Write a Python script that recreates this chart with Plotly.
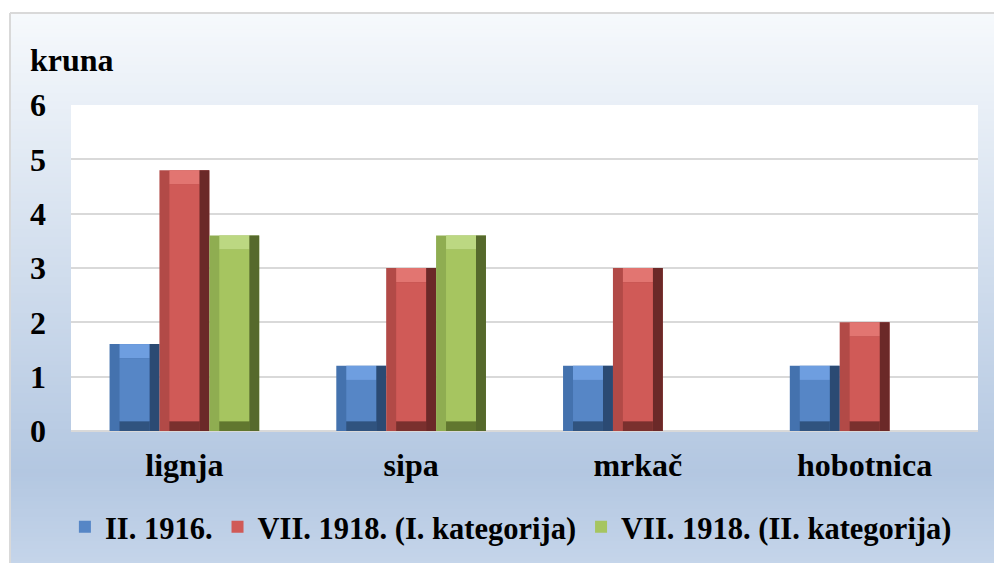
import plotly.graph_objects as go

# data
kategorije = ['lignja', 'sipa', 'mrkač', 'hobotnica']
serije = ['II. 1916.', 'VII. 1918. (I. kategorija)', 'VII. 1918. (II. kategorija)']
ii_1916 = [1.6, 1.2, 1.2, 1.2]
vii_1918_i = [4.8, 3.0, 3.0, 2.0]
vii_1918_ii = [3.6, 3.6, None, None]

# style - bevel colours per series
lice = ['#5686c6', '#d05a57', '#a6c560']     # face
lijevo = ['#4472ae', '#b24a47', '#8fad51']   # left bevel
desno = ['#2b4a73', '#6b2928', '#56692c']    # right bevel
gore_c = ['#6e9ee0', '#e27571', '#bcd882']   # top bevel
dolje_c = ['#30537f', '#7a302e', '#61772f']  # bottom bevel
pomak = [-0.33, -0.11, 0.11]
sirina = 0.22
ux = 0.044      # side bevel (category units)
ug = 0.26       # top bevel (data units)
ud = 0.18       # bottom bevel
FONT = 'Liberation Serif, Times New Roman, serif'
FS = 32
FS_LEG = 30.5

W, H = 994, 563
L, R, T, B = 71, 16, 105, 132
ph = H - T - B
pw = W - L - R

def py(y):
    # pixel row -> paper y
    return (H - B - y) / ph

def px(x):
    return (x - L) / pw

def minus(vals, d):
    return [None if v is None else v - d for v in vals]

fig = go.Figure()
for i, vals in enumerate([ii_1916, vii_1918_i, vii_1918_ii]):
    o = pomak[i]
    skip = dict(showlegend=False, hoverinfo='skip')
    # whole bar (left bevel colour)
    fig.add_trace(go.Bar(x=kategorije, y=vals, width=sirina, offset=o,
                         marker=dict(color=lijevo[i], line=dict(width=0)), **skip))
    # right bevel
    fig.add_trace(go.Bar(x=kategorije, y=vals, width=ux, offset=o + sirina - ux,
                         marker=dict(color=desno[i], line=dict(width=0)), **skip))
    # top bevel
    fig.add_trace(go.Bar(x=kategorije, y=[None if v is None else ug for v in vals],
                         base=minus(vals, ug), width=sirina - 2 * ux, offset=o + ux,
                         marker=dict(color=gore_c[i], line=dict(width=0)), **skip))
    # bottom bevel
    fig.add_trace(go.Bar(x=kategorije, y=[None if v is None else ud for v in vals],
                         width=sirina - 2 * ux, offset=o + ux,
                         marker=dict(color=dolje_c[i], line=dict(width=0)), **skip))
    # face
    fig.add_trace(go.Bar(x=kategorije, y=minus(vals, ug + ud), base=ud,
                         width=sirina - 2 * ux, offset=o + ux,
                         marker=dict(color=lice[i], line=dict(width=0)),
                         name=serije[i]))

# gradient background
shapes = []
top, bot = 13, H
def mix(c1, c2, t):
    return '#%02x%02x%02x' % tuple(int(round(a + (b - a) * t)) for a, b in zip(c1, c2))
c_top = (246, 249, 252)
c_mid = (179, 199, 225)
c_bot = (197, 213, 234)
korak = 4
for y in range(top, bot, korak):
    if y < 470:
        c = mix(c_top, c_mid, (y - top) / (470 - top))
    else:
        c = mix(c_mid, c_bot, (y - 470) / (bot - 470))
    shapes.append(dict(type='rect', xref='paper', yref='paper', layer='below',
                       x0=px(10), x1=px(W + 2), y0=py(y + korak + 1), y1=py(y),
                       fillcolor=c, line=dict(width=0)))
shapes.append(dict(type='rect', xref='paper', yref='paper', layer='below',
                   x0=0, x1=1, y0=0, y1=1, fillcolor='white', line=dict(width=0)))
shapes.append(dict(type='line', xref='paper', yref='paper', x0=px(10), x1=px(10),
                   y0=py(13), y1=py(H + 2), line=dict(color='#d9d9d9', width=2)))
shapes.append(dict(type='line', xref='paper', yref='paper', x0=px(10), x1=px(W + 2),
                   y0=py(13), y1=py(13), line=dict(color='#d9d9d9', width=2)))

fig.update_layout(
    width=W, height=H,
    margin=dict(l=L, r=R, t=T, b=B, autoexpand=False),
    barmode='overlay',
    paper_bgcolor='white',
    plot_bgcolor='white',
    shapes=shapes,
    font=dict(family=FONT, size=FS, color='black', weight='bold'),
    legend=dict(orientation='h', x=0.485, xanchor='center', y=py(527), yanchor='middle',
                bgcolor='rgba(0,0,0,0)', font=dict(family=FONT, size=FS_LEG, weight='bold'),
                itemwidth=30, tracegroupgap=0),
    annotations=[dict(text='kruna', xref='paper', yref='paper', x=px(28), y=py(60),
                      xanchor='left', yanchor='middle', showarrow=False,
                      font=dict(family=FONT, size=FS, weight='bold'))],
)
fig.update_xaxes(showgrid=False, showline=False, ticks='', ticklabelstandoff=12,
                 automargin=False, tickfont=dict(family=FONT, size=FS, weight='bold'))
fig.update_yaxes(range=[0, 6], dtick=1, showgrid=True, gridcolor='#d9d9d9', gridwidth=2,
                 zeroline=True, zerolinecolor='#d9d9d9', zerolinewidth=2,
                 showline=False, ticks='', ticklabelstandoff=24, automargin=False,
                 tickfont=dict(family=FONT, size=FS, weight='bold'))

fig.write_html("out.html", config={'displayModeBar': False},
               post_script="document.body.style.margin='0';")
